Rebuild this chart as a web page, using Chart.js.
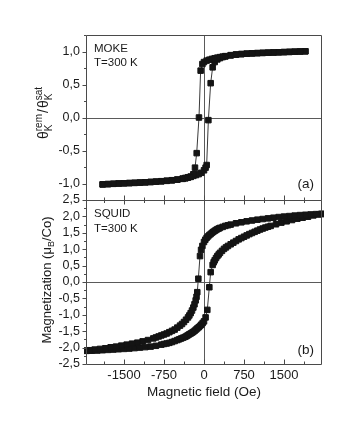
<!DOCTYPE html>
<html><head><meta charset="utf-8">
<script src="https://cdn.jsdelivr.net/npm/chart.js@4.4.1/dist/chart.umd.min.js"></script>
<style>
html,body{margin:0;padding:0;background:#fff;}
#wrap{position:relative;width:357px;height:436px;background:#fff;}
canvas{position:absolute;left:0;top:0;}
</style></head><body>
<div id="wrap"><canvas id="c1" width="357" height="436"></canvas><canvas id="c2" width="357" height="436"></canvas></div>
<script>
// ---- axis ticks ----
const fieldTicks = [-1500, -750, 0, 750, 1500];
const fieldTickLabels = ['-1500', '-750', '0', '750', '1500'];
const fieldMinorTicks = [-1875, -1125, -375, 375, 1125, 1875];
const mokeTicks = [-1, -0.5, 0, 0.5, 1];
const mokeTickLabels = ['-1,0', '-0,5', '0,0', '0,5', '1,0'];
const mokeMinorTicks = [-1.25, -0.75, -0.25, 0.25, 0.75, 1.25];
const squidTicks = [-2.5, -2, -1.5, -1, -0.5, 0, 0.5, 1, 1.5, 2, 2.5];
const squidTickLabels = ['-2,5', '-2,0', '-1,5', '-1,0', '-0,5', '0,0', '0,5', '1,0', '1,5', '2,0', '2,5'];
const squidMinorTicks = [-2.25, -1.75, -1.25, -0.75, -0.25, 0.25, 0.75, 1.25, 1.75, 2.25];

// ---- (a) MOKE loop ----
const mokeDescField = [1900, 1800, 1700, 1600, 1500, 1400, 1300, 1200, 1100, 1000, 900, 800, 700, 600, 500, 400, 350, 300, 250, 200, 150, 100, 50, 0, -30, -63, -94, -137, -169, -200, -250, -300, -350, -400, -500, -600, -700, -800, -900, -1000, -1100, -1200, -1300, -1400, -1500, -1600, -1700, -1800, -1900];
const mokeDescValue = [1.003, 1.0, 0.997, 0.994, 0.991, 0.988, 0.985, 0.982, 0.979, 0.976, 0.972, 0.968, 0.962, 0.955, 0.945, 0.93, 0.922, 0.915, 0.907, 0.898, 0.888, 0.876, 0.862, 0.84, 0.81, 0.71, 0.0, -0.54, -0.76, -0.86, -0.9, -0.912, -0.922, -0.93, -0.942, -0.952, -0.96, -0.967, -0.973, -0.977, -0.982, -0.986, -0.99, -0.994, -0.997, -1.0, -1.004, -1.008, -1.012];
const mokeAscField = [-1900, -1800, -1700, -1600, -1500, -1400, -1300, -1200, -1100, -1000, -900, -800, -700, -600, -500, -400, -350, -300, -250, -200, -150, -100, -50, 0, 30, 50, 82, 125, 162, 200, 250, 300, 350, 400, 500, 600, 700, 800, 900, 1000, 1100, 1200, 1300, 1400, 1500, 1600, 1700, 1800, 1900];
const mokeAscValue = [-1.015, -1.01, -1.005, -1.0, -0.997, -0.993, -0.99, -0.986, -0.982, -0.977, -0.971, -0.965, -0.958, -0.95, -0.94, -0.925, -0.915, -0.905, -0.895, -0.885, -0.872, -0.858, -0.838, -0.8, -0.76, -0.72, -0.04, 0.52, 0.76, 0.84, 0.88, 0.9, 0.915, 0.925, 0.94, 0.952, 0.96, 0.966, 0.971, 0.975, 0.979, 0.982, 0.985, 0.988, 0.991, 0.994, 0.997, 1.0, 1.003];

// ---- (b) SQUID loop ----
const squidDescField = [2200, 2100, 2000, 1900, 1800, 1700, 1600, 1500, 1400, 1300, 1200, 1100, 1000, 900, 800, 700, 600, 500, 450, 400, 350, 300, 275, 250, 225, 200, 175, 150, 125, 100, 75, 50, 25, 0, -30, -55, -75, -106, -126, -140, -156, -178, -200, -225, -250, -275, -300, -337, -375, -412, -450, -500, -550, -600, -650, -700, -750, -800, -850, -900, -950, -1050, -1150, -1250, -1350, -1450, -1550, -1650, -1750, -1850, -1950, -2050, -2150, -2200];
const squidDescValue = [2.08, 2.07, 2.06, 2.05, 2.04, 2.025, 2.01, 1.995, 1.98, 1.96, 1.94, 1.92, 1.9, 1.875, 1.85, 1.82, 1.79, 1.75, 1.73, 1.71, 1.68, 1.65, 1.63, 1.61, 1.585, 1.56, 1.53, 1.5, 1.465, 1.43, 1.39, 1.35, 1.29, 1.22, 1.1, 0.98, 0.79, 0.1, -0.31, -0.45, -0.56, -0.68, -0.78, -0.87, -0.95, -1.02, -1.08, -1.15, -1.22, -1.28, -1.33, -1.39, -1.45, -1.49, -1.53, -1.57, -1.6, -1.63, -1.66, -1.69, -1.72, -1.77, -1.81, -1.85, -1.88, -1.91, -1.94, -1.97, -1.99, -2.02, -2.04, -2.06, -2.08, -2.09];
const squidAscField = [-2200, -2100, -2000, -1900, -1800, -1700, -1600, -1500, -1400, -1300, -1200, -1100, -1000, -900, -800, -750, -700, -650, -600, -550, -500, -462, -425, -387, -350, -325, -300, -275, -250, -225, -200, -175, -150, -125, -100, -75, -50, -25, 0, 30, 62, 100, 125, 162, 181, 200, 225, 250, 275, 300, 337, 375, 412, 450, 500, 550, 600, 650, 700, 750, 800, 850, 900, 950, 1000, 1050, 1100, 1150, 1200, 1250, 1350, 1450, 1550, 1650, 1750, 1850, 1950, 2050, 2150, 2200];
const squidAscValue = [-2.1, -2.095, -2.09, -2.08, -2.07, -2.06, -2.05, -2.04, -2.03, -2.015, -2.0, -1.985, -1.97, -1.945, -1.91, -1.89, -1.875, -1.855, -1.83, -1.8, -1.77, -1.745, -1.72, -1.695, -1.67, -1.645, -1.62, -1.595, -1.57, -1.545, -1.52, -1.485, -1.45, -1.415, -1.38, -1.34, -1.3, -1.25, -1.2, -1.08, -0.85, -0.16, 0.3, 0.52, 0.6, 0.66, 0.73, 0.79, 0.84, 0.89, 0.95, 1.01, 1.055, 1.1, 1.15, 1.2, 1.25, 1.3, 1.34, 1.38, 1.42, 1.46, 1.495, 1.53, 1.565, 1.6, 1.63, 1.66, 1.685, 1.71, 1.76, 1.81, 1.85, 1.89, 1.93, 1.96, 1.99, 2.03, 2.06, 2.07];

const FONT = '"Liberation Sans", Arial, Helvetica, sans-serif';
const TXT = '#1a1a1a';
const FRAME = '#4a4a4a';
const FIELD_MIN = -2212, FIELD_MAX = 2212;

function pts(f, v) { return f.map((h, i) => ({x: h, y: v[i]})); }
function ds(data) {
  return {data, showLine: true, borderColor: '#3a3a3a', borderWidth: 1, tension: 0,
    pointStyle: 'rect', pointRadius: 3.9, pointBorderWidth: 1,
    pointBackgroundColor: '#141414', pointBorderColor: '#141414', clip: 2};
}
function crisp(v) { return Math.round(v) + 0.5; }

function segW(ctx, s) {
  const items = s.stack || [s];
  let w = 0;
  for (const t of items) { ctx.font = t.s + 'px ' + FONT; w = Math.max(w, ctx.measureText(t.t).width); }
  return w + (s.gap || 0);
}
function drawRich(ctx, cx, cy, segs) {
  ctx.save();
  ctx.translate(cx, cy); ctx.rotate(-Math.PI / 2);
  ctx.fillStyle = TXT; ctx.textBaseline = 'alphabetic'; ctx.textAlign = 'left';
  let total = 0; for (const s of segs) total += segW(ctx, s);
  let u = -total / 2;
  for (const s of segs) {
    const items = s.stack || [s];
    for (const t of items) { ctx.font = t.s + 'px ' + FONT; ctx.fillText(t.t, u, t.dv || 0); }
    u += segW(ctx, s);
  }
  ctx.restore();
}
function drawText(ctx, t, x, y, size) {
  ctx.save(); ctx.font = size + 'px ' + FONT; ctx.fillStyle = TXT;
  ctx.textBaseline = 'alphabetic'; ctx.textAlign = 'left'; ctx.fillText(t, x, y); ctx.restore();
}

function makePlugin(cfg) {
  return {
    id: 'frame' + cfg.name,
    beforeDatasetsDraw(chart) {
      const {ctx, chartArea: a, scales: {x, y}} = chart;
      ctx.save(); ctx.strokeStyle = '#5a5a5a'; ctx.lineWidth = 1; ctx.beginPath();
      const x0 = crisp(x.getPixelForValue(0)), y0 = crisp(y.getPixelForValue(0));
      ctx.moveTo(x0, a.top); ctx.lineTo(x0, a.bottom);
      ctx.moveTo(a.left, y0); ctx.lineTo(a.right, y0);
      ctx.stroke(); ctx.restore();
    },
    afterDraw(chart) {
      const {ctx, chartArea: a, scales: {x, y}} = chart;
      const L = Math.round(a.left) + 0.5, R = Math.round(a.right) - 0.5;
      const T = Math.round(a.top) + 0.5, B = Math.round(a.bottom) + 0.5;
      ctx.save(); ctx.strokeStyle = FRAME; ctx.lineWidth = 1; ctx.beginPath();
      ctx.rect(L, T, R - L, B - T);
      for (const v of cfg.yMajor) { const p = crisp(y.getPixelForValue(v)); ctx.moveTo(L, p); ctx.lineTo(L - 4, p); }
      for (const v of cfg.yMinor) { const p = crisp(y.getPixelForValue(v)); ctx.moveTo(L, p); ctx.lineTo(L - 2.5, p); }
      for (const v of fieldTicks) {
        const p = crisp(x.getPixelForValue(v));
        ctx.moveTo(p, B); ctx.lineTo(p, B - 5);
        if (cfg.topTicks) { ctx.moveTo(p, T); ctx.lineTo(p, T + 4); }
      }
      for (const v of fieldMinorTicks) {
        const p = crisp(x.getPixelForValue(v));
        ctx.moveTo(p, B); ctx.lineTo(p, B - 3);
        if (cfg.topTicks) { ctx.moveTo(p, T); ctx.lineTo(p, T + 2.5); }
      }
      ctx.stroke(); ctx.restore();
      cfg.texts(ctx);
    }
  };
}

function yScale(min, max, ticks, labels) {
  return {
    type: 'linear', min, max, position: 'left',
    grid: {display: false, drawTicks: false}, border: {display: false},
    afterBuildTicks: s => { s.ticks = ticks.map(v => ({value: v})); },
    afterFit: s => { s.width = 86; },
    ticks: {autoSkip: false, padding: 6, color: TXT, font: {family: FONT, size: 12.5},
      callback: (v, i) => labels[i]}
  };
}

const common = {
  responsive: false, animation: false, devicePixelRatio: 1,
  plugins: {legend: {display: false}, tooltip: {enabled: false}},
  events: []
};

// ---- top chart (a) ----
new Chart(document.getElementById('c1'), {
  type: 'scatter',
  data: {datasets: [ds(pts(mokeDescField, mokeDescValue)), ds(pts(mokeAscField, mokeAscValue))]},
  options: Object.assign({}, common, {
    layout: {padding: {top: 35, right: 35, left: 0, bottom: 236}, autoPadding: false},
    scales: {
      x: {type: 'linear', min: FIELD_MIN, max: FIELD_MAX, display: false},
      y: yScale(-1.25, 1.25, mokeTicks, mokeTickLabels)
    }
  }),
  plugins: [makePlugin({name: 'a', yMajor: mokeTicks, yMinor: mokeMinorTicks, topTicks: false,
    texts: ctx => {
      drawText(ctx, 'MOKE', 94, 52, 11.5);
      drawText(ctx, 'T=300 K', 94, 66, 11.5);
      drawText(ctx, '(a)', 297.5, 188, 13.5);
      drawRich(ctx, 48, 113, [
        {t: 'θ', s: 14},
        {stack: [{t: 'K', s: 10, dv: 4}, {t: 'rem', s: 10, dv: -6.5}], gap: 1},
        {t: '/', s: 14, gap: 1},
        {t: 'θ', s: 14},
        {stack: [{t: 'K', s: 10, dv: 4}, {t: 'sat', s: 10, dv: -6.5}]}
      ]);
    }})]
});

// ---- bottom chart (b) ----
new Chart(document.getElementById('c2'), {
  type: 'scatter',
  data: {datasets: [ds(pts(squidDescField, squidDescValue)), ds(pts(squidAscField, squidAscValue))]},
  options: Object.assign({}, common, {
    layout: {padding: {top: 200, right: 35, left: 0, bottom: 0}, autoPadding: false},
    scales: {
      x: {
        type: 'linear', min: FIELD_MIN, max: FIELD_MAX, position: 'bottom',
        grid: {display: false, drawTicks: false}, border: {display: false},
        afterBuildTicks: s => { s.ticks = fieldTicks.map(v => ({value: v})); },
        afterFit: s => { s.height = 72; },
        ticks: {autoSkip: false, maxRotation: 0, padding: 4, color: TXT, font: {family: FONT, size: 13},
          callback: (v, i) => fieldTickLabels[i]},
        title: {display: true, text: 'Magnetic field (Oe)', color: TXT,
          font: {family: FONT, size: 13.5}, padding: {top: 0, bottom: 36}}
      },
      y: yScale(-2.5, 2.5, squidTicks, squidTickLabels)
    }
  }),
  plugins: [makePlugin({name: 'b', yMajor: squidTicks, yMinor: squidMinorTicks, topTicks: true,
    texts: ctx => {
      drawText(ctx, 'SQUID', 94, 217, 11.5);
      drawText(ctx, 'T=300 K', 94, 232, 11.5);
      drawText(ctx, '(b)', 297.5, 354, 13.5);
      drawRich(ctx, 50.5, 280, [
        {t: 'Magnetization (μ', s: 13},
        {t: 'B', s: 9, dv: 3},
        {t: '/Co)', s: 13}
      ]);
    }})]
});
</script>
</body></html>
